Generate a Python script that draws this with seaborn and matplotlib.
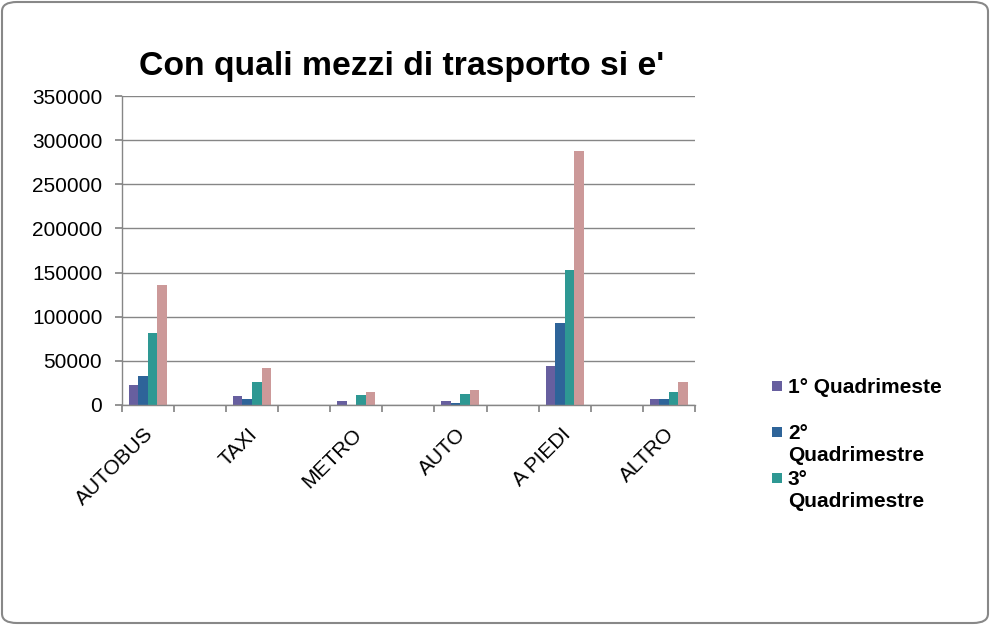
import numpy as np
import pandas as pd
import matplotlib
matplotlib.use("Agg")
import matplotlib.pyplot as plt
import matplotlib.transforms as mtransforms
import seaborn as sns
from matplotlib.patches import FancyBboxPatch, Rectangle

# ---- data ----
categories = ["AUTOBUS", "TAXI", "METRO", "AUTO", "A PIEDI", "ALTRO"]
series_names = ["1° Quadrimeste", "2° Quadrimestre", "3° Quadrimestre", "4° Quadrimestre"]
legend_labels = ["1° Quadrimeste", "2°\nQuadrimestre", "3°\nQuadrimestre"]
q1 = [22700, 10000, 4500, 4500, 44000, 7000]
q2 = [33000, 7000, 0, 2000, 93000, 7000]
q3 = [82000, 26000, 11000, 12500, 153000, 15000]
q4 = [136000, 42000, 15000, 17000, 288000, 26000]
yticks = [0, 50000, 100000, 150000, 200000, 250000, 300000, 350000]
title = "Con quali mezzi di trasporto si e'"
colors = ["#675F9F", "#2E6499", "#2E9893", "#CC9999"]

sns.set_theme(style="white")
plt.rcParams["font.family"] = ["Liberation Sans", "DejaVu Sans"]
plt.rcParams["text.color"] = "black"
plt.rcParams["xtick.color"] = "black"
plt.rcParams["ytick.color"] = "black"

rows = []
for name, vals in zip(series_names, [q1, q2, q3, q4]):
    for c, v in zip(categories, vals):
        rows.append({"cat": c, "val": v, "series": name})
df = pd.DataFrame(rows)

# Excel chart had blank category slots between the real ones
order = []
for i, c in enumerate(categories):
    order.append(c)
    if i < len(categories) - 1:
        order.append(f"_blank{i}")

W, H = 990, 625
fig = plt.figure(figsize=(9.9, 6.25), dpi=100)
ax = fig.add_axes([121.7 / W, 1 - 405 / H, (695 - 121.7) / W, (405 - 96) / H])

sns.barplot(data=df, x="cat", y="val", hue="series", order=order,
            hue_order=series_names, palette=colors, width=0.73, gap=0,
            saturation=1, legend=False, errorbar=None, ax=ax, linewidth=0)

grid_c = "#868686"
ax.set_xlim(-0.5, len(order) - 0.5)
ax.set_ylim(0, 350000)
ax.set_yticks(yticks)
ax.set_yticklabels([str(v) for v in yticks], fontsize=15)
ax.yaxis.grid(True, color=grid_c, linewidth=1)
ax.set_axisbelow(True)
ax.set_xlabel("")
ax.set_ylabel("")

ax.set_xticks(np.arange(-0.5, len(order), 1.0))
ax.set_xticklabels([])
pos = [order.index(c) for c in categories]
ax.set_xticks(pos, minor=True)
ax.set_xticklabels(categories, minor=True, rotation=45, ha="right",
                   rotation_mode="anchor", fontsize=15)
ax.tick_params(axis="x", which="major", direction="out", length=5, color=grid_c, bottom=True)
ax.tick_params(axis="x", which="minor", length=0, pad=14, bottom=True)
ax.tick_params(axis="y", direction="out", length=5, color=grid_c, left=True, pad=9)
shift = mtransforms.ScaledTranslation(-4 / 100, 0, fig.dpi_scale_trans)
for lbl in ax.get_xticklabels(minor=True):
    lbl.set_transform(lbl.get_transform() + shift)

for s in ["top", "right"]:
    ax.spines[s].set_visible(False)
for s in ["left", "bottom"]:
    ax.spines[s].set_color(grid_c)
    ax.spines[s].set_linewidth(1)

fig.text(402 / W, 1 - 67 / H, title, ha="center", va="center",
         fontsize=24.3, fontweight="bold", color="black")

# legend (Excel-style: square at first line, fixed row pitch; 4th entry clipped)
legend_y = [386, 432, 478]
for c, lab, yy in zip(colors[:3], legend_labels, legend_y):
    fig.patches.append(Rectangle(((772) / W, 1 - (yy + 5) / H), 10 / W, 10 / H,
                                 transform=fig.transFigure, facecolor=c,
                                 edgecolor="none"))
    fig.text(788 / W, 1 - (yy - 8) / H, lab, ha="left", va="top",
             fontsize=15, fontweight="bold", color="black", linespacing=1.2)

border = FancyBboxPatch((2 / W, 2 / H), 986 / W, 621 / H,
                        boxstyle="round,pad=0,rounding_size=0.015",
                        transform=fig.transFigure, fill=False,
                        edgecolor="#888888", linewidth=1.5)
fig.patches.append(border)

fig.savefig("out.png", dpi=100)
